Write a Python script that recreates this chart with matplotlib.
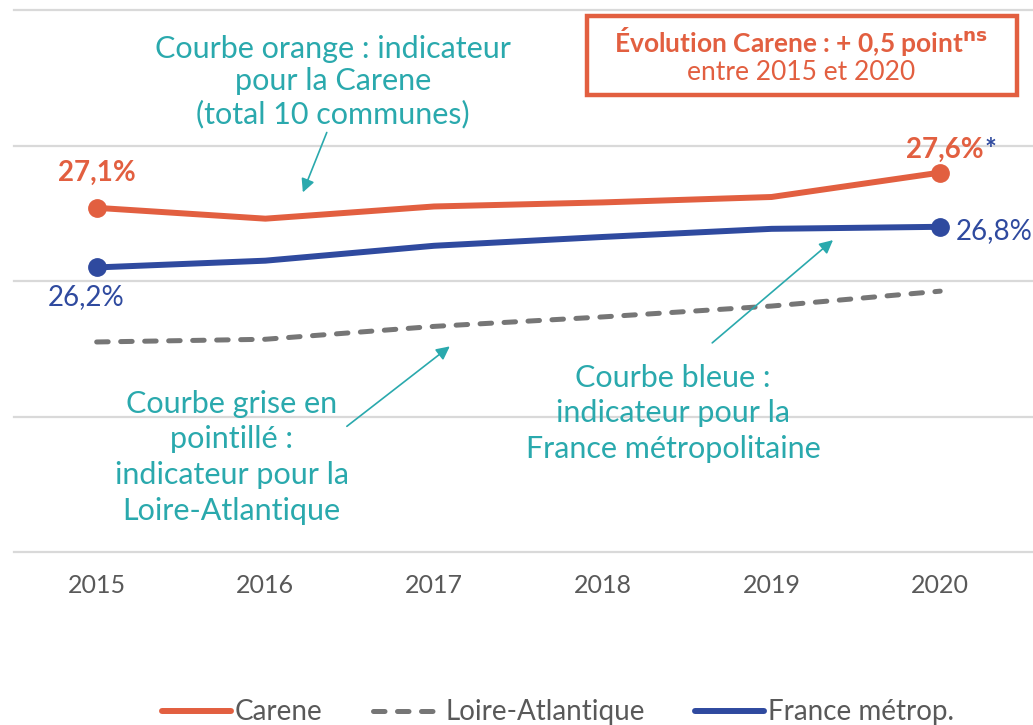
import matplotlib.pyplot as plt

years = ["2015", "2016", "2017", "2018", "2019", "2020"]
carene = [27.08, 26.92, 27.10, 27.16, 27.24, 27.60]
loire = [25.10, 25.14, 25.33, 25.47, 25.63, 25.85]
france = [26.20, 26.30, 26.52, 26.65, 26.77, 26.80]

ORANGE = "#e25f40"
BLUE = "#2f4a9f"
GREY = "#767676"
TEAL = "#2aa9ad"
TXT = "#595959"

plt.rcParams["font.family"] = ["Lato", "DejaVu Sans"]

W, H = 1033, 725
fig = plt.figure(figsize=(W / 100, H / 100), dpi=100)
ax = fig.add_axes([14 / W, (H - 552) / H, (W - 14) / W, 542 / H])
x = list(range(len(years)))
ax.set_xlim(-0.49, 5.55)
ax.set_ylim(22, 30)
for g in [22, 24, 26, 28, 30]:
    ax.axhline(g, color="#d9d9d9", lw=1.6, zorder=0, clip_on=False)
for s in ax.spines.values():
    s.set_visible(False)
ax.set_yticks([])
ax.set_xticks(x)
ax.set_xticklabels(years, fontsize=18, color=TXT)
ax.tick_params(axis="x", length=0, pad=16)

ax.plot(x, carene, color=ORANGE, lw=4.3, solid_capstyle="round", label="Carene", zorder=3)
ax.plot(x, loire, color=GREY, lw=3.6, dashes=(2.3, 2.5), dash_capstyle="round", label="Loire-Atlantique", zorder=2)
ax.plot(x, france, color=BLUE, lw=4.3, solid_capstyle="round", label="France métrop.", zorder=3)
ax.plot([x[0], x[-1]], [carene[0], carene[-1]], "o", color=ORANGE, ms=12.5, zorder=4)
ax.plot([x[0], x[-1]], [france[0], france[-1]], "o", color=BLUE, ms=12.5, zorder=4)

# valeurs aux extrémités
ax.text(0, 27.6, "27,1%", color=ORANGE, fontsize=20, fontweight="bold", ha="center", va="center")
ax.text(-0.06, 25.76, "26,2%", color=BLUE, fontsize=20, ha="center", va="center")
t = ax.text(5.03, 27.93, "27,6%", color=ORANGE, fontsize=20, fontweight="bold", ha="center", va="center")
ax.annotate("*", xy=(1, 0.5), xycoords=t, color=BLUE, fontsize=20, fontweight="bold", va="center", ha="left")
ax.text(5.09, 26.73, "26,8%", color=BLUE, fontsize=20, ha="left", va="center")

# annotations en turquoise
fs = 22
arrow = dict(arrowstyle="-|>", color=TEAL, lw=1.2, mutation_scale=20)
ax.text(1.40, 28.94, "Courbe orange : indicateur\npour la Carene\n(total 10 communes)",
        color=TEAL, fontsize=fs, ha="center", va="center", linespacing=1.2)
ax.annotate("", xy=(1.216, 27.27), xytext=(1.37, 28.23), arrowprops=arrow)
ax.text(0.80, 23.40, "Courbe grise en\npointillé :\nindicateur pour la\nLoire-Atlantique",
        color=TEAL, fontsize=fs, ha="center", va="center", linespacing=1.33)
ax.annotate("", xy=(2.106, 25.06), xytext=(1.47, 23.83), arrowprops=arrow)
ax.text(3.416, 24.05, "Courbe bleue :\nindicateur pour la\nFrance métropolitaine",
        color=TEAL, fontsize=fs, ha="center", va="center", linespacing=1.33)
ax.annotate("", xy=(4.377, 26.63), xytext=(3.636, 25.06), arrowprops=arrow)

# encadré
fig.patches.append(plt.Rectangle((587 / W, (H - 95) / H), 430 / W, 79 / H, transform=fig.transFigure,
                                 fill=False, edgecolor=ORANGE, lw=3.2))
fig.text(801 / W, (H - 41) / H, "Évolution Carene : + 0,5 point$^{\\mathbf{ns}}$", color=ORANGE,
         fontsize=19, fontweight="bold", ha="center", va="center")
fig.text(801 / W, (H - 73) / H, "entre 2015 et 2020", color=ORANGE, fontsize=19, ha="center", va="center")

leg = fig.legend(loc="lower center", bbox_to_anchor=(0.54, -0.035), ncol=3, frameon=False,
                 handlelength=2.5, handletextpad=0.12, columnspacing=1.8,
                 prop={"size": 20})
for txt in leg.get_texts():
    txt.set_color(TXT)

fig.savefig("out.png", dpi=100)
